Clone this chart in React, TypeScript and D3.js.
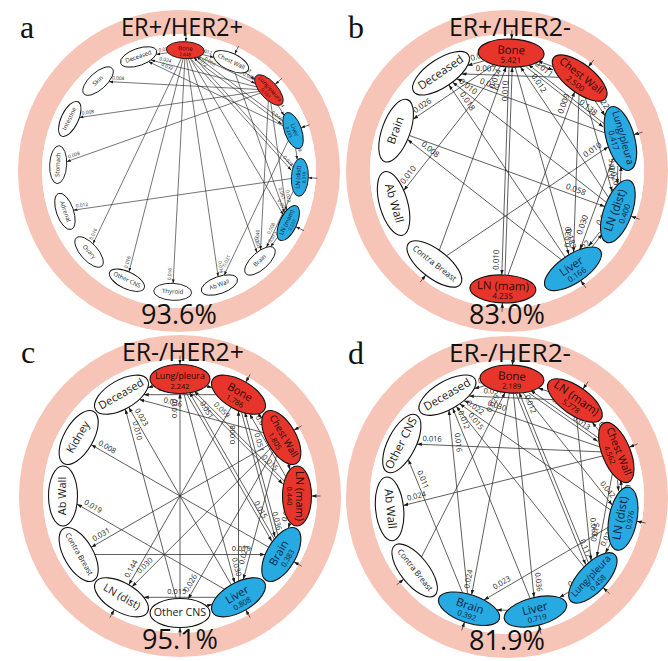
import * as d3 from 'd3';

// node: [name, kind, value, has entry arrow]
type NodeRow = [string, string, string, boolean];
type EdgeRow = [string, string, string];

const aNodes: NodeRow[] = [
  ['Bone', 'red', '2.648', true],
  ['Chest Wall', 'white', '', true],
  ['Lung/pleura', 'red', '0.593', true],
  ['Liver', 'blue', '0.203', true],
  ['LN (dist)', 'blue', '0.318', true],
  ['LN (mam)', 'blue', '0.237', true],
  ['Brain', 'white', '', false],
  ['Ab Wall', 'white', '', false],
  ['Thyroid', 'white', '', false],
  ['Other CNS', 'white', '', false],
  ['Ovary', 'white', '', false],
  ['Adrenal', 'white', '', false],
  ['Stomach', 'white', '', false],
  ['Intestine', 'white', '', false],
  ['Skin', 'white', '', false],
  ['Deceased', 'white', '', false],
];
const aEdges: EdgeRow[] = [
  ['Bone', 'Deceased', '0.032'],
  ['Lung/pleura', 'Deceased', '0.024'],
  ['Liver', 'Deceased', '0.032'],
  ['Lung/pleura', 'Skin', '0.008'],
  ['Lung/pleura', 'Intestine', '0.008'],
  ['Lung/pleura', 'Stomach', '0.008'],
  ['LN (dist)', 'Adrenal', '0.012'],
  ['Bone', 'Ovary', '0.016'],
  ['Bone', 'Other CNS', '0.016'],
  ['Bone', 'Thyroid', '0.016'],
  ['Bone', 'Ab Wall', '0.016'],
  ['Liver', 'Ab Wall', '0.021'],
  ['Bone', 'Brain', '0.009'],
  ['Lung/pleura', 'Brain', '0.040'],
  ['LN (dist)', 'Brain', '0.008'],
  ['LN (mam)', 'Brain', '0.012'],
  ['Bone', 'Chest Wall', '0.012'],
  ['Bone', 'Lung/pleura', '0.020'],
  ['Bone', 'Liver', '0.046'],
  ['Bone', 'LN (dist)', '0.028'],
  ['Bone', 'LN (mam)', '0.057'],
  ['Chest Wall', 'Lung/pleura', '0.003'],
  ['Lung/pleura', 'Liver', '0.024'],
  ['Liver', 'LN (dist)', '0.009'],
  ['Lung/pleura', 'LN (mam)', '0.022'],
  ['LN (dist)', 'Bone', '0.012'],
  ['Liver', 'Bone', '0.005'],
  ['Chest Wall', 'LN (mam)', '0.061'],
];

const bNodes: NodeRow[] = [
  ['Bone', 'red', '5.421', true],
  ['Chest Wall', 'red', '2.500', true],
  ['Lung/pleura', 'blue', '0.417', true],
  ['LN (dist)', 'blue', '0.400', true],
  ['Liver', 'blue', '0.166', true],
  ['LN (mam)', 'red', '4.235', true],
  ['Contra Breast', 'white', '', true],
  ['Ab Wall', 'white', '', false],
  ['Brain', 'white', '', false],
  ['Deceased', 'white', '', false],
];
const bEdges: EdgeRow[] = [
  ['Bone', 'Deceased', '0.029'],
  ['Chest Wall', 'Deceased', '0.007'],
  ['Lung/pleura', 'Deceased', '0.022'],
  ['LN (dist)', 'Deceased', '0.010'],
  ['Liver', 'Deceased', '0.018'],
  ['Bone', 'Brain', '0.026'],
  ['Liver', 'Brain', '0.008'],
  ['Bone', 'Ab Wall', '0.010'],
  ['Contra Breast', 'Bone', '0.014'],
  ['LN (mam)', 'Chest Wall', '0.009'],
  ['Bone', 'LN (mam)', '0.010'],
  ['LN (mam)', 'Bone', '0.010'],
  ['Bone', 'Chest Wall', '0.042'],
  ['Chest Wall', 'Bone', '0.029'],
  ['Lung/pleura', 'Bone', '0.011'],
  ['LN (dist)', 'Bone', '0.012'],
  ['Chest Wall', 'Lung/pleura', '0.022'],
  ['Bone', 'Lung/pleura', '0.138'],
  ['Chest Wall', 'Liver', '0.020'],
  ['Lung/pleura', 'LN (dist)', '0.016'],
  ['LN (dist)', 'Lung/pleura', '0.012'],
  ['Lung/pleura', 'Liver', '0.030'],
  ['LN (dist)', 'Liver', '0.013'],
  ['Liver', 'LN (dist)', '0.022'],
  ['Bone', 'Liver', '0.183'],
  ['Brain', 'LN (dist)', '0.058'],
  ['Contra Breast', 'Lung/pleura', '0.010'],
  ['Chest Wall', 'LN (dist)', '0.020'],
];

const cNodes: NodeRow[] = [
  ['Lung/pleura', 'red', '2.242', true],
  ['Bone', 'red', '1.786', true],
  ['Chest Wall', 'red', '1.805', true],
  ['LN (mam)', 'red', '0.440', true],
  ['Brain', 'blue', '0.383', true],
  ['Liver', 'blue', '0.808', true],
  ['Other CNS', 'white', '', true],
  ['LN (dist)', 'white', '', true],
  ['Contra Breast', 'white', '', false],
  ['Ab Wall', 'white', '', false],
  ['Kidney', 'white', '', false],
  ['Deceased', 'white', '', false],
];
const cEdges: EdgeRow[] = [
  ['Lung/pleura', 'Deceased', '0.036'],
  ['Bone', 'Deceased', '0.062'],
  ['Chest Wall', 'Deceased', '0.036'],
  ['Liver', 'Deceased', '0.023'],
  ['Other CNS', 'Deceased', '0.010'],
  ['Brain', 'Kidney', '0.008'],
  ['Liver', 'Ab Wall', '0.019'],
  ['Chest Wall', 'Contra Breast', '0.031'],
  ['Bone', 'LN (dist)', '0.144'],
  ['Chest Wall', 'LN (dist)', '0.030'],
  ['Liver', 'LN (dist)', '0.015'],
  ['Other CNS', 'Lung/pleura', '0.010'],
  ['Brain', 'Lung/pleura', '0.051'],
  ['LN (mam)', 'Lung/pleura', '0.059'],
  ['Lung/pleura', 'Bone', '0.018'],
  ['Liver', 'Bone', '0.008'],
  ['Brain', 'Bone', '0.051'],
  ['LN (mam)', 'Bone', '0.011'],
  ['Bone', 'Chest Wall', '0.015'],
  ['Chest Wall', 'LN (mam)', '0.026'],
  ['Lung/pleura', 'LN (mam)', '0.015'],
  ['LN (mam)', 'Brain', '0.031'],
  ['Contra Breast', 'Brain', '0.019'],
  ['Lung/pleura', 'Brain', '0.015'],
  ['Bone', 'Brain', '0.036'],
  ['Lung/pleura', 'Liver', '0.030'],
  ['Chest Wall', 'Liver', '0.023'],
  ['Other CNS', 'Liver', '0.012'],
  ['Chest Wall', 'Other CNS', '0.026'],
];

const dNodes: NodeRow[] = [
  ['Bone', 'red', '2.189', true],
  ['LN (mam)', 'red', '5.778', true],
  ['Chest Wall', 'red', '4.562', true],
  ['LN (dist)', 'blue', '0.976', true],
  ['Lung/pleura', 'blue', '0.458', true],
  ['Liver', 'blue', '0.719', true],
  ['Brain', 'blue', '0.392', true],
  ['Contra Breast', 'white', '', true],
  ['Ab Wall', 'white', '', false],
  ['Other CNS', 'white', '', false],
  ['Deceased', 'white', '', false],
];
const dEdges: EdgeRow[] = [
  ['Bone', 'Deceased', '0.012'],
  ['LN (mam)', 'Deceased', '0.031'],
  ['Chest Wall', 'Deceased', '0.030'],
  ['LN (dist)', 'Deceased', '0.022'],
  ['Lung/pleura', 'Deceased', '0.015'],
  ['Brain', 'Deceased', '0.016'],
  ['Liver', 'Deceased', '0.012'],
  ['Chest Wall', 'Other CNS', '0.016'],
  ['Brain', 'Other CNS', '0.011'],
  ['Chest Wall', 'Ab Wall', '0.024'],
  ['Contra Breast', 'Bone', '0.029'],
  ['Bone', 'Brain', '0.024'],
  ['LN (dist)', 'Brain', '0.023'],
  ['Liver', 'Brain', '0.013'],
  ['Bone', 'Liver', '0.036'],
  ['Lung/pleura', 'Liver', '0.035'],
  ['LN (dist)', 'Lung/pleura', '0.022'],
  ['Chest Wall', 'Lung/pleura', '0.015'],
  ['LN (mam)', 'Lung/pleura', '0.063'],
  ['Bone', 'Lung/pleura', '0.117'],
  ['Bone', 'LN (dist)', '0.042'],
  ['Chest Wall', 'LN (dist)', '0.021'],
  ['LN (dist)', 'Chest Wall', '0.019'],
  ['Bone', 'Chest Wall', '0.013'],
  ['Chest Wall', 'LN (mam)', '0.024'],
  ['LN (mam)', 'Bone', '0.042'],
  ['Chest Wall', 'Bone', '0.024'],
  ['Lung/pleura', 'Bone', '0.012'],
];

const panels = [
  { id: 'a', letter: 'a', title: 'ER+/HER2+', pct: '93.6%', nodes: aNodes, edges: aEdges,
    cx: 179, cy: 171, R: 121, rx: 19, ry: 8.5, start: -87, name: 6, val: 4.5, lab: 4.8, arrow: 4 },
  { id: 'b', letter: 'b', title: 'ER+/HER2-', pct: '83.0%', nodes: bNodes, edges: bEdges,
    cx: 507, cy: 171, R: 118, rx: 33, ry: 14, start: -88, name: 11.5, val: 8, lab: 8, arrow: 5 },
  { id: 'c', letter: 'c', title: 'ER-/HER2+', pct: '95.1%', nodes: cNodes, edges: cEdges,
    cx: 180, cy: 496, R: 117, rx: 30, ry: 14.5, start: -90, name: 11, val: 7.5, lab: 7.5, arrow: 5 },
  { id: 'd', letter: 'd', title: 'ER-/HER2-', pct: '81.9%', nodes: dNodes, edges: dEdges,
    cx: 507, cy: 497, R: 118, rx: 32, ry: 14, start: -87.6, name: 11.5, val: 7.5, lab: 7.5, arrow: 5 },
];

const FILL: Record<string, string> = { red: '#e8352b', blue: '#27a9e1', white: '#ffffff' };
const INK: Record<string, string> = { red: '#2b0806', blue: '#08243d', white: '#1a1a1a' };
const FONT = "'Open Sans', 'Noto Sans', sans-serif";

const upright = (deg: number) => {
  let r = ((((deg + 180) % 360) + 360) % 360) - 180;
  if (r > 90) r -= 180;
  if (r < -90) r += 180;
  return r;
};

function Panel({ p }: { p: any }) {
  const n = p.nodes.length;
  const angle = d3.scaleLinear().domain([0, n]).range([p.start, p.start + 360]);
  const pos = new Map<string, any>();
  p.nodes.forEach(([name, kind, value, entry]: NodeRow, i: number) => {
    const deg = angle(i);
    const a = (deg * Math.PI) / 180;
    pos.set(name, { name, kind, value, entry, a, rot: upright(deg + 90),
      x: p.cx + p.R * Math.cos(a), y: p.cy + p.R * Math.sin(a) });
  });

  // distance from node centre to its ellipse edge along (ux, uy)
  const reach = (q: any, ux: number, uy: number) => {
    const t = (q.rot * Math.PI) / 180;
    const lx = ux * Math.cos(t) + uy * Math.sin(t);
    const ly = -ux * Math.sin(t) + uy * Math.cos(t);
    return 1 / Math.sqrt((lx / p.rx) ** 2 + (ly / p.ry) ** 2);
  };

  const keys = new Set(p.edges.map((e: EdgeRow) => e[0] + '>' + e[1]));
  const seen = new Map<string, number>();
  const small = p.id === 'a';
  const lines = p.edges.map(([s, t, label]: EdgeRow, i: number) => {
    const S = pos.get(s), T = pos.get(t);
    const dx = T.x - S.x, dy = T.y - S.y;
    const L = Math.hypot(dx, dy);
    const ux = dx / L, uy = dy / L;
    const off = keys.has(t + '>' + s) ? 1.6 : 0;
    const px = -uy * off, py = ux * off;
    const rs = reach(S, ux, uy);
    const x1 = S.x + ux * rs + px, y1 = S.y + uy * rs + py;
    const rt = reach(T, -ux, -uy);
    const x2 = T.x - ux * rt + px, y2 = T.y - uy * rt + py;
    const k = seen.get(t) || 0;
    seen.set(t, k + 1);
    const back = (small ? 9 : 15) + (k % 3) * (small ? 5 : 9);
    const r = upright((Math.atan2(uy, ux) * 180) / Math.PI);
    const rr = (r * Math.PI) / 180;
    const side = small ? 2.2 : 3.5;
    const lx = x2 - ux * back + Math.sin(rr) * side, ly = y2 - uy * back - Math.cos(rr) * side;
    return { key: i, x1, y1, x2, y2, label, lx, ly, r };
  });

  const rIn = 137, rOut = 161;
  const ring = d3.arc()({ innerRadius: rIn, outerRadius: rOut, startAngle: 0, endAngle: 2 * Math.PI } as any) as string;

  return (
    <g>
      <defs>
        <marker id={'arr-' + p.id} viewBox="0 0 10 10" refX="10" refY="5" markerWidth={p.arrow} markerHeight={p.arrow}
          markerUnits="userSpaceOnUse" orient="auto">
          <path d="M0,1.5L10,5L0,8.5z" fill="#1a1a1a" />
        </marker>
      </defs>
      <path d={ring} transform={`translate(${p.cx},${p.cy})`} fill="#f7c5b8" />
      <circle cx={p.cx} cy={p.cy} r={rIn} fill="#fff" />
      {lines.map((l: any) => (
        <line key={'l' + l.key} x1={l.x1} y1={l.y1} x2={l.x2} y2={l.y2} stroke="#2a2a2a" strokeWidth={small ? 0.65 : 0.75}
          markerEnd={`url(#arr-${p.id})`} />
      ))}
      {lines.map((l: any) => (
        <text key={'t' + l.key} transform={`translate(${l.lx},${l.ly}) rotate(${l.r})`} fontSize={p.lab}
          fontFamily={FONT} fill="#222" textAnchor="middle">{l.label}</text>
      ))}
      {[...pos.values()].filter((q) => q.entry).map((q) => {
        const ux = Math.cos(q.a), uy = Math.sin(q.a);
        const r = reach(q, ux, uy);
        return (
          <line key={'e' + q.name} x1={q.x + ux * (r + 9)} y1={q.y + uy * (r + 9)} x2={q.x + ux * r} y2={q.y + uy * r}
            stroke="#333" strokeWidth={0.75} markerEnd={`url(#arr-${p.id})`} />
        );
      })}
      {[...pos.values()].map((q) => {
        const fs = Math.min(p.name, (2 * p.rx - (small ? 4 : 7)) / (q.name.length * 0.55));
        return (
          <g key={q.name} transform={`translate(${q.x},${q.y}) rotate(${q.rot})`}>
            <ellipse rx={p.rx} ry={p.ry} fill={FILL[q.kind]} stroke="#111" strokeWidth={small ? 0.9 : 1.1} />
            <text y={q.value ? -p.ry * 0.15 : 0} fontSize={fs} fontFamily={FONT} fill={INK[q.kind]}
              textAnchor="middle" dominantBaseline="middle">{q.name}</text>
            {q.value && (
              <text y={p.ry * 0.55} fontSize={p.val} fontFamily={FONT} fill={INK[q.kind]} textAnchor="middle"
                dominantBaseline="middle">{q.value}</text>
            )}
          </g>
        );
      })}
      <text x={p.cx + 3} y={p.cy - 135} fontSize={26} fontFamily={FONT} fill="#111" textAnchor="middle"
        textLength={122} lengthAdjust="spacingAndGlyphs">{p.title}</text>
      <text x={p.cx} y={p.cy + 153} fontSize={28} fontFamily={FONT} fill="#111" textAnchor="middle"
        textLength={76} lengthAdjust="spacingAndGlyphs">{p.pct}</text>
      <text x={p.cx - 159} y={p.cy - 133} fontSize={32} fontFamily="'Liberation Serif', 'DejaVu Serif', serif"
        fill="#111">{p.letter}</text>
    </g>
  );
}

export default function App() {
  return (
    <svg width={668} height={661} style={{ position: 'absolute', left: 0, top: 0, background: '#fff' }}>
      <rect width={668} height={661} fill="#fff" />
      {panels.map((p) => (
        <Panel key={p.id} p={p} />
      ))}
    </svg>
  );
}
